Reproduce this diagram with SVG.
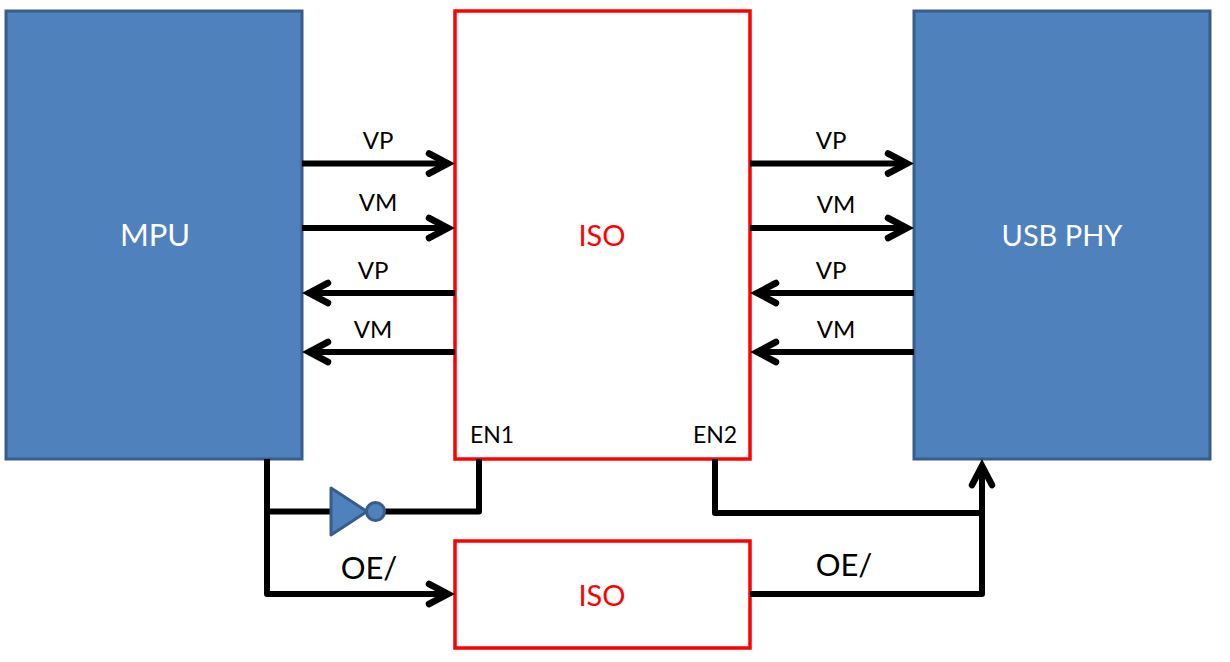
<svg xmlns="http://www.w3.org/2000/svg" width="1230" height="662" viewBox="0 0 1230 662">
  <style>
    .chip { fill: #4f81bd; stroke: #385d8a; stroke-width: 3; }
    .iso { fill: #fff; stroke: #f00; stroke-width: 3.500; }
    .wire { fill: none; stroke: #000; stroke-width: 6; stroke-linejoin: round; }
    .head { fill: none; stroke: #000; stroke-width: 6.500; stroke-linecap: round; stroke-linejoin: miter; stroke-miterlimit: 3; }
    text { font-family: Lato, Carlito, "Open Sans", sans-serif; text-anchor: middle; }
    .big { font-size: 31px; }
    .narrow { font-size: 29px; }
    .white { fill: #fff; }
    .red { fill: #f00; }
    .sig { font-size: 24px; fill: #000; }
    .en { font-size: 23px; fill: #000; }
    .oe { font-size: 31px; fill: #000; }
  </style>
  <rect width="1230" height="662" fill="#fff"/>

  <g id="node-mpu">
    <rect class="chip" x="6" y="11" width="296" height="448"/>
    <text class="big white" x="155" y="246">MPU</text>
  </g>
  <g id="node-iso-main">
    <rect class="iso" x="455" y="11" width="295" height="448"/>
    <text class="narrow red" x="602" y="246">ISO</text>
    <text class="en" x="492" y="443">EN1</text>
    <text class="en" x="715" y="443">EN2</text>
  </g>
  <g id="node-usb-phy">
    <rect class="chip" x="914" y="11" width="296" height="448"/>
    <text class="narrow white" x="1062" y="246">USB PHY</text>
  </g>
  <g id="node-iso-oe">
    <rect class="iso" x="455" y="541" width="295" height="107"/>
    <text class="narrow red" x="602" y="606">ISO</text>
  </g>

  <g id="connectors">
    <!-- MPU side data lines -->
    <path class="wire" d="M302 163.500H447"/>
    <path class="head" d="M429 153.500L448 163.500L429 173.500"/>
    <path class="wire" d="M302 228H447"/>
    <path class="head" d="M429 218L448 228L429 238"/>
    <path class="wire" d="M455 293H310"/>
    <path class="head" d="M328 283L309 293L328 303"/>
    <path class="wire" d="M455 352H310"/>
    <path class="head" d="M328 342L309 352L328 362"/>

    <!-- USB PHY side data lines -->
    <path class="wire" d="M750 163.500H906"/>
    <path class="head" d="M888 153.500L907 163.500L888 173.500"/>
    <path class="wire" d="M750 228H906"/>
    <path class="head" d="M888 218L907 228L888 238"/>
    <path class="wire" d="M914 293H758"/>
    <path class="head" d="M776 283L757 293L776 303"/>
    <path class="wire" d="M914 352H758"/>
    <path class="head" d="M776 342L757 352L776 362"/>

    <!-- Output enable routing -->
    <path class="wire" d="M267 459V594H447"/>
    <path class="head" d="M429 584L448 594L429 604"/>
    <path class="wire" d="M267 511.500H331"/>
    <path class="wire" d="M385 511.500H479V459"/>
    <path class="wire" d="M715 459V513H982"/>
    <path class="wire" d="M750 594H982V470"/>
    <path class="head" d="M972 485L982 466L992 485"/>
  </g>

  <g id="node-inverter">
    <path class="chip" d="M331 488L367 511.500L331 535Z" stroke-linejoin="round"/>
    <circle class="chip" cx="375.500" cy="511.500" r="9"/>
  </g>

  <g id="labels">
    <text class="sig" x="378" y="149">VP</text>
    <text class="sig" x="378" y="211">VM</text>
    <text class="sig" x="373" y="279">VP</text>
    <text class="sig" x="373" y="338">VM</text>
    <text class="sig" x="831" y="149">VP</text>
    <text class="sig" x="836" y="213">VM</text>
    <text class="sig" x="831" y="279">VP</text>
    <text class="sig" x="836" y="338">VM</text>
    <text class="oe" x="369" y="579">OE/</text>
    <text class="oe" x="844" y="576">OE/</text>
  </g>
</svg>
